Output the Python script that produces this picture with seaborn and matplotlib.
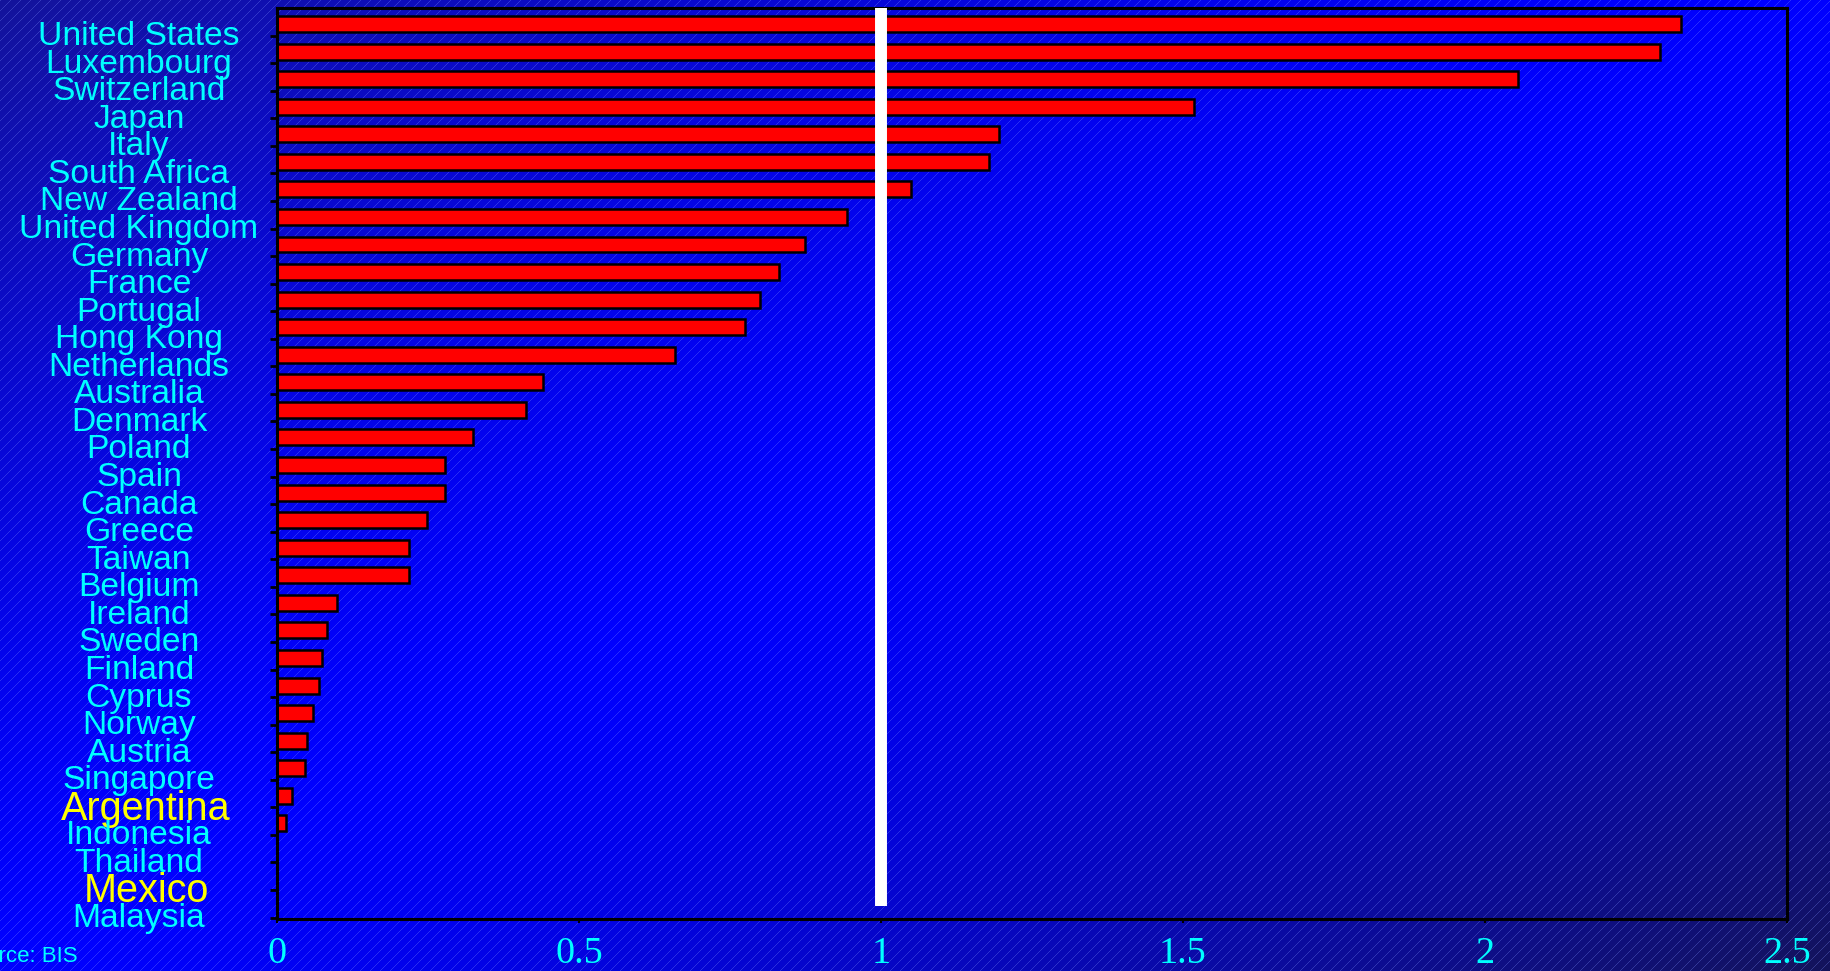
import numpy as np
import pandas as pd
import matplotlib
matplotlib.use("Agg")
import matplotlib.pyplot as plt
import seaborn as sns
from matplotlib.transforms import ScaledTranslation

# ---------------- data ----------------
countries = ["United States", "Luxembourg", "Switzerland", "Japan", "Italy",
             "South Africa", "New Zealand", "United Kingdom", "Germany", "France",
             "Portugal", "Hong Kong", "Netherlands", "Australia", "Denmark",
             "Poland", "Spain", "Canada", "Greece", "Taiwan", "Belgium",
             "Ireland", "Sweden", "Finland", "Cyprus", "Norway", "Austria",
             "Singapore", "Argentina", "Indonesia", "Thailand", "Mexico", "Malaysia"]
values = [2.325, 2.29, 2.055, 1.518, 1.195,
          1.179, 1.050, 0.944, 0.874, 0.831,
          0.799, 0.775, 0.659, 0.441, 0.412,
          0.325, 0.278, 0.278, 0.249, 0.218, 0.218,
          0.099, 0.083, 0.075, 0.070, 0.060, 0.050,
          0.046, 0.025, 0.015, 0.0, 0.0, 0.0]
highlighted = ["Argentina", "Mexico"]
x_ticks = [0, 0.5, 1, 1.5, 2, 2.5]
x_tick_labels = ["0", "0.5", "1", "1.5", "2", "2.5"]
reference_value = 1
source_text = "Source: BIS"

# ---------------- style ----------------
sns.set_theme(style="white")
plt.rcParams["font.family"] = ["Liberation Sans", "DejaVu Sans"]

W, H = 1831, 971
fig = plt.figure(figsize=(W / 100, H / 100), dpi=100)

# background: blue diagonal gradient with fine diagonal stripes
yy, xx = np.mgrid[0:H, 0:W]
u = xx / W
v = yy / H
d = u + v - 1.0
blue = np.where(d < 0, 255 - 100 * np.abs(d) ** 1.5, 255 - 165 * np.clip(d, 0, None) ** 1.4)
grey = 20 * np.abs(d) ** 1.5
img = np.stack([grey, grey, blue], axis=-1)
stripe = ((xx + yy) % 10) == 0
light = np.array([130.0, 150.0, 255.0])
img[stripe] = img[stripe] * 0.7 + light * 0.3
img = np.clip(img, 0, 255).astype(np.uint8)
fig.patch.set_facecolor("#0000c8")
bg = fig.add_axes([0, 0, 1, 1], zorder=-10)
bg.imshow(img, aspect="auto", interpolation="nearest")
bg.axis("off")

left, right, top, bottom = 277 / W, 1787 / W, 1 - 8 / H, 1 - 919 / H
ax = fig.add_axes([left, bottom, right - left, top - bottom])
ax.set_facecolor("none")

df = pd.DataFrame({"country": countries, "value": values})
sns.barplot(data=df, x="value", y="country", orient="h", color="#ff0000",
            saturation=1, edgecolor="black", linewidth=1.8, width=0.58, ax=ax)

n = len(countries)
ax.vlines(reference_value, ymin=-0.6, ymax=n - 1, colors="white",
          linewidth=8.6, zorder=5)

ax.set_xlim(0, 2.5)
ax.set_ylim(n - 1 + 0.47, -0.58)
ax.set_xlabel("")
ax.set_ylabel("")
ax.grid(False)

for s in ax.spines.values():
    s.set_visible(True)
    s.set_color("black")
    s.set_linewidth(2.2)

# x axis
ax.set_xticks(x_ticks, x_tick_labels)
ax.tick_params(axis="x", which="major", bottom=True, direction="out", length=3,
               width=1.5, color="black", labelcolor="#00ffff", labelsize=27.5, pad=9.5)
for lbl in ax.get_xticklabels():
    lbl.set_fontfamily(["Liberation Serif", "DejaVu Serif"])

# y axis
ax.set_yticks(np.arange(n), countries)
ax.set_yticks(np.arange(n) + 0.42, minor=True)
ax.tick_params(axis="y", which="major", left=True, length=0, pad=99.4)
ax.tick_params(axis="y", which="minor", left=True, direction="out", length=5,
               width=2, color="black")
offset = ScaledTranslation(0, -0.09, fig.dpi_scale_trans)
offset_hl = ScaledTranslation(0.07, -0.09, fig.dpi_scale_trans)
for lbl in ax.get_yticklabels():
    lbl.set_ha("center")
    if lbl.get_text() in highlighted:
        lbl.set_color("#ffff00")
        lbl.set_fontsize(28.5)
        lbl.set_transform(lbl.get_transform() + offset_hl)
    else:
        lbl.set_color("#00ffff")
        lbl.set_fontsize(24.2)
        lbl.set_transform(lbl.get_transform() + offset)

fig.text(-41 / W, 1 - 956 / H, source_text, color="#00ffff", fontsize=16,
         ha="left", va="center")

fig.savefig("out.png", dpi=100)
